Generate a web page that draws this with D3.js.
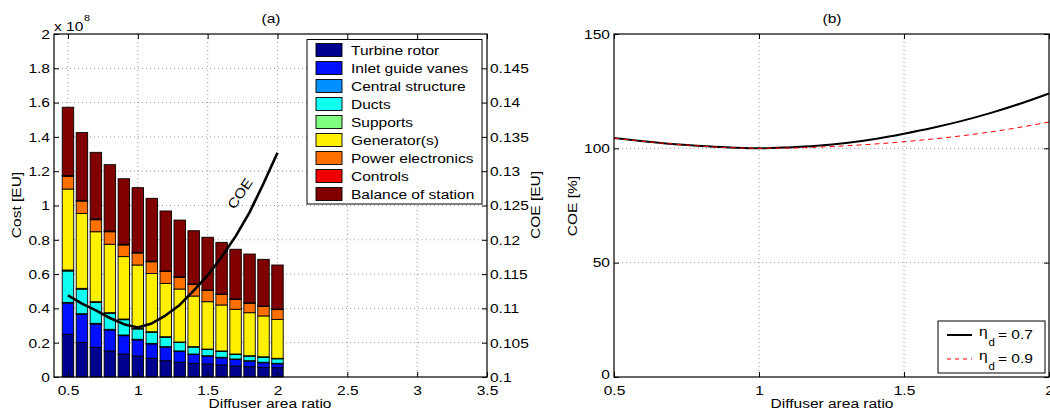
<!DOCTYPE html>
<html>
<head>
<meta charset="utf-8">
<script src="https://cdn.jsdelivr.net/npm/d3@7"></script>
<style>
  html, body { margin: 0; padding: 0; background: #fff; }
  svg { display: block; }
  text { font-family: "Liberation Sans", Arial, Helvetica, sans-serif; fill: #000; }
</style>
</head>
<body>
<svg id="fig" width="1050" height="415"></svg>
<script>
// ---- data -------------------------------------------------------------
const areaRatio = [0.5, 0.6, 0.7, 0.8, 0.9, 1.0, 1.1, 1.2, 1.3, 1.4, 1.5, 1.6, 1.7, 1.8, 1.9, 2.0];

// cost components, in units of 1e8 EU
const turbineRotor      = [0.249, 0.202, 0.173, 0.152, 0.134, 0.122, 0.109, 0.095, 0.086, 0.080, 0.076, 0.070, 0.064, 0.060, 0.056, 0.054];
const inletGuideVanes   = [0.182, 0.163, 0.136, 0.122, 0.107, 0.094, 0.084, 0.079, 0.063, 0.051, 0.045, 0.042, 0.038, 0.032, 0.027, 0.023];
const centralStructure  = [0.004, 0.004, 0.004, 0.004, 0.004, 0.004, 0.003, 0.003, 0.003, 0.003, 0.003, 0.003, 0.003, 0.003, 0.003, 0.003];
const ducts             = [0.183, 0.143, 0.121, 0.092, 0.089, 0.060, 0.064, 0.054, 0.049, 0.040, 0.036, 0.034, 0.026, 0.026, 0.029, 0.026];
const supports          = [0.006, 0.005, 0.005, 0.005, 0.004, 0.004, 0.004, 0.004, 0.003, 0.003, 0.003, 0.003, 0.003, 0.003, 0.003, 0.003];
const generators        = [0.472, 0.437, 0.408, 0.399, 0.364, 0.369, 0.340, 0.311, 0.309, 0.295, 0.276, 0.268, 0.261, 0.251, 0.238, 0.227];
const powerElectronics  = [0.074, 0.072, 0.070, 0.073, 0.068, 0.070, 0.068, 0.069, 0.069, 0.067, 0.065, 0.061, 0.057, 0.055, 0.055, 0.057];
const controls          = [0.004, 0.004, 0.004, 0.004, 0.004, 0.004, 0.004, 0.003, 0.003, 0.003, 0.003, 0.003, 0.003, 0.003, 0.003, 0.003];
const balanceOfStation  = [0.399, 0.395, 0.389, 0.387, 0.382, 0.377, 0.366, 0.350, 0.330, 0.311, 0.308, 0.301, 0.290, 0.284, 0.272, 0.257];

const componentNames = ["Turbine rotor", "Inlet guide vanes", "Central structure", "Ducts", "Supports",
                        "Generator(s)", "Power electronics", "Controls", "Balance of station"];
const componentColors = ["#00008f", "#0010ff", "#0090ff", "#10fff0", "#80ff80",
                         "#fff000", "#ff7000", "#f00000", "#800000"];
const componentValues = [turbineRotor, inletGuideVanes, centralStructure, ducts, supports,
                         generators, powerElectronics, controls, balanceOfStation];

// cost of energy [EU/kWh] on the right-hand axis of (a)
const coe = [0.1119, 0.1107, 0.1097, 0.1086, 0.1077, 0.1072, 0.1078, 0.1090, 0.1105, 0.1126, 0.1148, 0.1175, 0.1205, 0.1240, 0.1282, 0.1327];

// relative COE [%] for two diffuser efficiencies, panel (b)
const coeEta07 = [104.5, 103.1, 101.9, 101.0, 100.4, 100.0, 100.4, 101.1, 102.3, 104.1, 106.4, 109.0, 112.0, 115.5, 119.5, 124.0];
const coeEta09 = [104.5, 103.1, 101.9, 101.0, 100.3, 100.0, 100.1, 100.5, 101.1, 101.9, 102.9, 104.1, 105.5, 107.2, 109.2, 111.5];
const etaValues = ["0.7", "0.9"];

// tick values
const costTicks   = [0, 0.2, 0.4, 0.6, 0.8, 1, 1.2, 1.4, 1.6, 1.8, 2];
const coeTicks    = [0.1, 0.105, 0.11, 0.115, 0.12, 0.125, 0.13, 0.135, 0.14, 0.145];
const ratioTicksA = [0.5, 1, 1.5, 2, 2.5, 3, 3.5];
const ratioTicksB = [0.5, 1, 1.5, 2];
const pctTicks    = [0, 50, 100, 150];

// ---- drawing ----------------------------------------------------------
const svg = d3.select("#fig");
const FS = 13.5;      // font size
const SX = 1.15;      // horizontal text stretch
const TICK = 5;

function stretch(sel) {
  sel.each(function () {
    const t = d3.select(this);
    const x = +t.attr("x") || 0, y = +t.attr("y") || 0;
    t.attr("x", 0).attr("y", 0)
     .attr("transform", `translate(${x},${y}) scale(${SX},1)`);
  });
}
function label(g, txt, x, y, opts = {}) {
  return g.append("text")
    .attr("transform", `translate(${x},${y}) rotate(${opts.rotate || 0}) scale(${SX},1)`)
    .attr("text-anchor", opts.anchor || "middle")
    .style("font-size", (opts.size || FS) + "px")
    .text(txt);
}
function styleAxis(g) {
  g.select(".domain").remove();
  g.selectAll("line").attr("stroke", "#000").attr("stroke-width", 1);
  g.selectAll("text").style("font-size", FS + "px").attr("fill", "#000");
  g.attr("font-family", null).attr("font-size", null);
  stretch(g.selectAll("text"));
}

// ===== panel (a) =====
const ax = { l: 54, r: 487, t: 34, b: 377 };
const xA  = d3.scaleLinear().domain([0.4, 3.5]).range([ax.l, ax.r]);
const yA  = d3.scaleLinear().domain([0, 2]).range([ax.b, ax.t]);
const yA2 = d3.scaleLinear().domain([0.1, 0.15]).range([ax.b, ax.t]);

const gA = svg.append("g");

// grid
const gridA = gA.append("g").attr("stroke", "#9a9a9a").attr("stroke-dasharray", "1,3").attr("stroke-width", 1);
gridA.selectAll("line.v").data(ratioTicksA.filter(v => v < 3.5)).join("line")
  .attr("x1", d => xA(d)).attr("x2", d => xA(d)).attr("y1", ax.t).attr("y2", ax.b);
gridA.selectAll("line.h").data(costTicks.filter(v => v > 0 && v < 2)).join("line")
  .attr("y1", d => yA(d)).attr("y2", d => yA(d)).attr("x1", ax.l).attr("x2", ax.r);

// stacked bars
const rows = areaRatio.map((r, i) => {
  const o = { ratio: r };
  componentNames.forEach((n, k) => { o[n] = componentValues[k][i]; });
  return o;
});
const stacked = d3.stack().keys(componentNames)(rows);
const barHalf = 0.041;
gA.append("g").selectAll("g").data(stacked).join("g")
  .attr("fill", (d, i) => componentColors[i])
  .selectAll("rect").data(d => d).join("rect")
  .attr("x", d => xA(d.data.ratio - barHalf))
  .attr("width", d => xA(d.data.ratio + barHalf) - xA(d.data.ratio - barHalf))
  .attr("y", d => yA(d[1]))
  .attr("height", d => yA(d[0]) - yA(d[1]))
  .attr("stroke", "#000").attr("stroke-width", 0.9);

// COE line
gA.append("path")
  .datum(areaRatio.map((r, i) => [r, coe[i]]))
  .attr("fill", "none").attr("stroke", "#000").attr("stroke-width", 2.6)
  .attr("stroke-linejoin", "round")
  .attr("d", d3.line().x(d => xA(d[0])).y(d => yA2(d[1])));
label(gA, "COE", 244, 196, { rotate: -56, anchor: "middle" });

// axes frame
gA.append("rect").attr("x", ax.l).attr("y", ax.t).attr("width", ax.r - ax.l).attr("height", ax.b - ax.t)
  .attr("fill", "none").attr("stroke", "#000").attr("stroke-width", 1.2);

const axLeft = gA.append("g").attr("transform", `translate(${ax.l},0)`)
  .call(d3.axisLeft(yA).tickValues(costTicks).tickFormat(d3.format("~g")).tickSizeInner(-TICK).tickSizeOuter(0).tickPadding(4));
styleAxis(axLeft);
const axRight = gA.append("g").attr("transform", `translate(${ax.r},0)`)
  .call(d3.axisRight(yA2).tickValues(coeTicks).tickFormat(d3.format("~g")).tickSizeInner(-TICK).tickSizeOuter(0).tickPadding(3));
styleAxis(axRight);
const axBottom = gA.append("g").attr("transform", `translate(0,${ax.b})`)
  .call(d3.axisBottom(xA).tickValues(ratioTicksA).tickFormat(d3.format("~g")).tickSizeInner(-TICK).tickSizeOuter(0).tickPadding(8));
styleAxis(axBottom);
const axTop = gA.append("g").attr("transform", `translate(0,${ax.t})`)
  .call(d3.axisTop(xA).tickValues(ratioTicksA).tickFormat("").tickSizeInner(-TICK).tickSizeOuter(0));
styleAxis(axTop);

// labels
label(gA, "(a)", 271, 23);
label(gA, "Diffuser area ratio", 270, 408);
label(gA, "Cost [EU]", 21, 205, { rotate: -90 });
label(gA, "COE [EU]", 540, 205, { rotate: -90 });
label(gA, "x 10", 54, 31, { anchor: "start" });
label(gA, "8", 84, 21, { anchor: "start", size: 9.5 });

// legend (a)
const legA = gA.append("g");
legA.append("rect").attr("x", 307).attr("y", 39.5).attr("width", 175).attr("height", 164.5)
  .attr("fill", "#fff").attr("stroke", "#000").attr("stroke-width", 1);
componentNames.forEach((n, i) => {
  const cy = 50 + i * 18;
  legA.append("rect").attr("x", 316).attr("y", cy - 6.5).attr("width", 26).attr("height", 13)
    .attr("fill", componentColors[i]).attr("stroke", "#000").attr("stroke-width", 0.9);
  label(legA, n, 351, cy + 5, { anchor: "start" });
});

// ===== panel (b) =====
const bx = { l: 614, r: 1049, t: 34, b: 377 };
const xB = d3.scaleLinear().domain([0.5, 2]).range([bx.l, bx.r]);
const yB = d3.scaleLinear().domain([0, 150]).range([bx.b, bx.t]);
const gB = svg.append("g");

const gridB = gB.append("g").attr("stroke", "#9a9a9a").attr("stroke-dasharray", "1,3").attr("stroke-width", 1);
gridB.selectAll("line.v").data(ratioTicksB.filter(v => v > 0.5 && v < 2)).join("line")
  .attr("x1", d => xB(d)).attr("x2", d => xB(d)).attr("y1", bx.t).attr("y2", bx.b);
gridB.selectAll("line.h").data(pctTicks.filter(v => v > 0 && v < 150)).join("line")
  .attr("y1", d => yB(d)).attr("y2", d => yB(d)).attr("x1", bx.l).attr("x2", bx.r);

const lineB = d3.line().x(d => xB(d[0])).y(d => yB(d[1])).curve(d3.curveMonotoneX);
gB.append("path").datum(areaRatio.map((r, i) => [r, coeEta07[i]]))
  .attr("fill", "none").attr("stroke", "#000").attr("stroke-width", 2).attr("d", lineB);
gB.append("path").datum(areaRatio.map((r, i) => [r, coeEta09[i]]))
  .attr("fill", "none").attr("stroke", "#ff0000").attr("stroke-width", 1).attr("stroke-dasharray", "5,4").attr("d", lineB);

gB.append("rect").attr("x", bx.l).attr("y", bx.t).attr("width", bx.r - bx.l).attr("height", bx.b - bx.t)
  .attr("fill", "none").attr("stroke", "#000").attr("stroke-width", 1.2);

const bLeft = gB.append("g").attr("transform", `translate(${bx.l},0)`)
  .call(d3.axisLeft(yB).tickValues(pctTicks).tickSizeInner(-TICK).tickSizeOuter(0).tickPadding(4));
styleAxis(bLeft);
// the zero label sits a touch higher so it clears the x tick label below it
bLeft.selectAll(".tick").filter(d => d === 0).select("text").attr("dy", "0.1em");
const bRight = gB.append("g").attr("transform", `translate(${bx.r},0)`)
  .call(d3.axisRight(yB).tickValues(pctTicks).tickFormat("").tickSizeInner(-TICK).tickSizeOuter(0));
styleAxis(bRight);
const bBottom = gB.append("g").attr("transform", `translate(0,${bx.b})`)
  .call(d3.axisBottom(xB).tickValues(ratioTicksB).tickFormat(d3.format("~g")).tickSizeInner(-TICK).tickSizeOuter(0).tickPadding(8));
styleAxis(bBottom);
const bTop = gB.append("g").attr("transform", `translate(0,${bx.t})`)
  .call(d3.axisTop(xB).tickValues(ratioTicksB).tickFormat("").tickSizeInner(-TICK).tickSizeOuter(0));
styleAxis(bTop);

label(gB, "(b)", 832, 23);
label(gB, "Diffuser area ratio", 832, 408);
label(gB, "COE [%]", 577, 206, { rotate: -90 });

// legend (b)
const legB = gB.append("g");
legB.append("rect").attr("x", 938).attr("y", 321).attr("width", 107).attr("height", 52)
  .attr("fill", "#fff").attr("stroke", "#000").attr("stroke-width", 1);
const legBStyles = [
  { color: "#000", width: 2, dash: null, y: 335 },
  { color: "#ff0000", width: 1, dash: "4,4", y: 359 }
];
legBStyles.forEach((s, i) => {
  legB.append("line").attr("x1", 947).attr("x2", 972).attr("y1", s.y).attr("y2", s.y)
    .attr("stroke", s.color).attr("stroke-width", s.width).attr("stroke-dasharray", s.dash);
  label(legB, "\u03b7", 979, s.y + 1, { anchor: "start" });
  label(legB, "d", 988.5, s.y + 11, { anchor: "start", size: 10 });
  label(legB, "= " + etaValues[i], 998, s.y + 4, { anchor: "start" });
});
</script>
</body>
</html>
